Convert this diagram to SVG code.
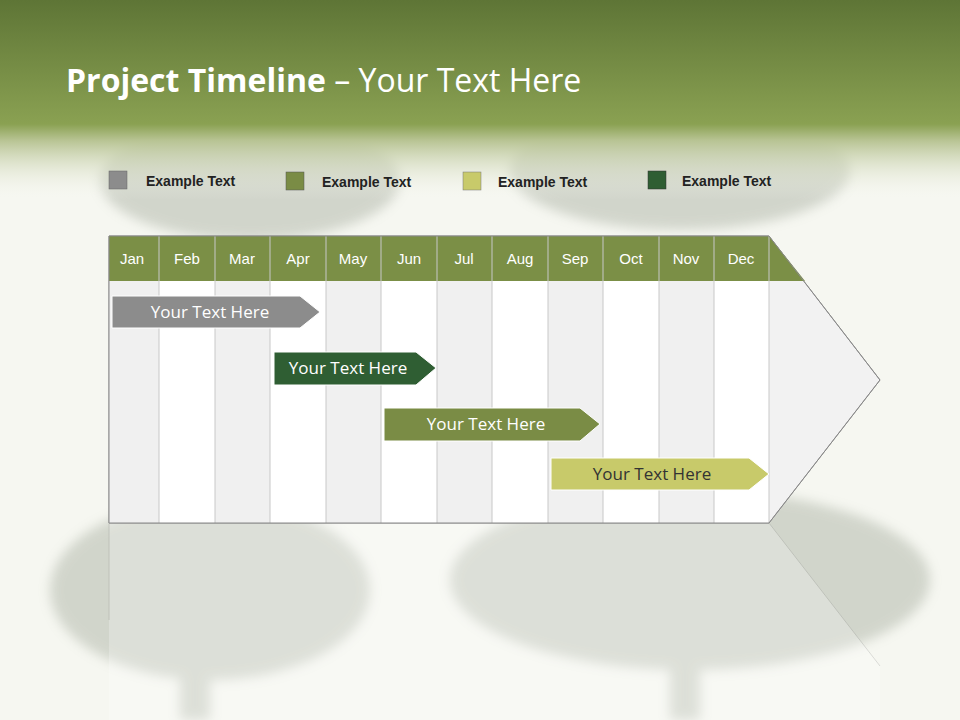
<svg xmlns="http://www.w3.org/2000/svg" width="960" height="720" viewBox="0 0 960 720">
<defs>
<linearGradient id="hdr" x1="0" y1="0" x2="0" y2="1">
<stop offset="0" stop-color="#5e7536"/><stop offset="0.62" stop-color="#8aa152"/><stop offset="0.7" stop-color="#b7c392"/><stop offset="1" stop-color="#f7f8f2" stop-opacity="0"/>
</linearGradient>
<filter id="blur"><feGaussianBlur stdDeviation="6"/></filter>
<style>
.mon{font-family:"Liberation Sans",Arial,sans-serif;font-size:15px;fill:#fff;text-anchor:middle}
.lg{font-family:"Liberation Sans",Arial,sans-serif;font-size:14px;font-weight:bold;fill:#222}
.bar{font-family:"Open Sans","Liberation Sans",sans-serif;font-size:17px;fill:#fff;text-anchor:middle}
.cl{stroke:#c8c8c8;stroke-width:1}
</style>
</defs>
<rect width="960" height="720" fill="#f6f7f1"/>
<g opacity="0.35" fill="#8f9887" filter="url(#blur)">
<ellipse cx="250" cy="180" rx="150" ry="60"/>
<ellipse cx="680" cy="170" rx="170" ry="60"/>
<ellipse cx="210" cy="590" rx="160" ry="90"/>
<ellipse cx="690" cy="580" rx="240" ry="90"/>
<rect x="180" y="640" width="30" height="80"/>
<rect x="670" y="640" width="30" height="80"/>
</g>
<rect width="960" height="200" fill="url(#hdr)"/>
<text x="66" y="92" font-family="'Open Sans','Liberation Sans',sans-serif" font-size="32" fill="#fff"><tspan font-weight="bold">Project Timeline</tspan> – Your Text Here</text>
<g id="legend">
<rect x="109" y="171" width="18" height="18" fill="#8c8c8c" stroke="#666" stroke-width="0.5"/><text class="lg" x="146" y="186">Example Text</text>
<rect x="286" y="172" width="18" height="18" fill="#7a8c45" stroke="#555" stroke-width="0.5"/><text class="lg" x="322" y="187">Example Text</text>
<rect x="463" y="172" width="18" height="18" fill="#c8ca6a" stroke="#777" stroke-width="0.5"/><text class="lg" x="498" y="187">Example Text</text>
<rect x="648" y="171" width="18" height="18" fill="#2f5e33" stroke="#333" stroke-width="0.5"/><text class="lg" x="682" y="186">Example Text</text>
</g>
<g id="reflection" opacity="0.25">
<path d="M109 523 L769 523 L880 666 L880 720 L109 720 Z" fill="#ffffff"/>
<path d="M109 523 V620 M769 523 L880 666" stroke="#888" fill="none"/>
</g>
<g id="grid">
<path d="M109 236 H769 L880 380 L769 523 H109 Z" fill="#f2f2f2" stroke="#999"/>
<g fill="#f0f0f0">
<rect x="109" y="281" width="50" height="242"/><rect x="215" y="281" width="55" height="242"/><rect x="326" y="281" width="55" height="242"/><rect x="437" y="281" width="55" height="242"/><rect x="548" y="281" width="55" height="242"/><rect x="659" y="281" width="55" height="242"/>
</g>
<g fill="#ffffff">
<rect x="159" y="281" width="56" height="242"/><rect x="270" y="281" width="56" height="242"/><rect x="381" y="281" width="56" height="242"/><rect x="492" y="281" width="56" height="242"/><rect x="603" y="281" width="56" height="242"/><rect x="714" y="281" width="55" height="242"/>
</g>
<rect x="109" y="236" width="660" height="45" fill="#7b8f46"/>
<path d="M769 236 L805 281 H769 Z" fill="#7b8f46"/>
<g class="cl">
<path d="M159 236V523M215 236V523M270 236V523M326 236V523M381 236V523M437 236V523M492 236V523M548 236V523M603 236V523M659 236V523M714 236V523M769 236V523"/>
</g>
<path d="M109 236 H769 L880 380 L769 523 H109 Z" fill="none" stroke="#888"/>
<text class="mon" x="132" y="264">Jan</text><text class="mon" x="187" y="264">Feb</text><text class="mon" x="242" y="264">Mar</text><text class="mon" x="298" y="264">Apr</text><text class="mon" x="353" y="264">May</text><text class="mon" x="409" y="264">Jun</text><text class="mon" x="464" y="264">Jul</text><text class="mon" x="520" y="264">Aug</text><text class="mon" x="575" y="264">Sep</text><text class="mon" x="631" y="264">Oct</text><text class="mon" x="686" y="264">Nov</text><text class="mon" x="741" y="264">Dec</text>
</g>
<g id="bar1"><path d="M112 296H300L320 312L300 328H112Z" fill="#8c8c8c" stroke="#fff"/><text class="bar" x="210" y="318">Your  Text Here</text></g>
<g id="bar2"><path d="M274 352H416L436 368L416 385H274Z" fill="#2f5e33" stroke="#fff"/><text class="bar" x="348" y="374">Your  Text Here</text></g>
<g id="bar3"><path d="M384 408H580L600 424L580 441H384Z" fill="#7a8c45" stroke="#fff"/><text class="bar" x="486" y="430">Your  Text Here</text></g>
<g id="bar4"><path d="M551 458H749L769 474L749 490H551Z" fill="#c8ca6a" stroke="#fff"/><text class="bar" x="652" y="480" fill="#333" style="fill:#333">Your  Text Here</text></g>
</svg>
